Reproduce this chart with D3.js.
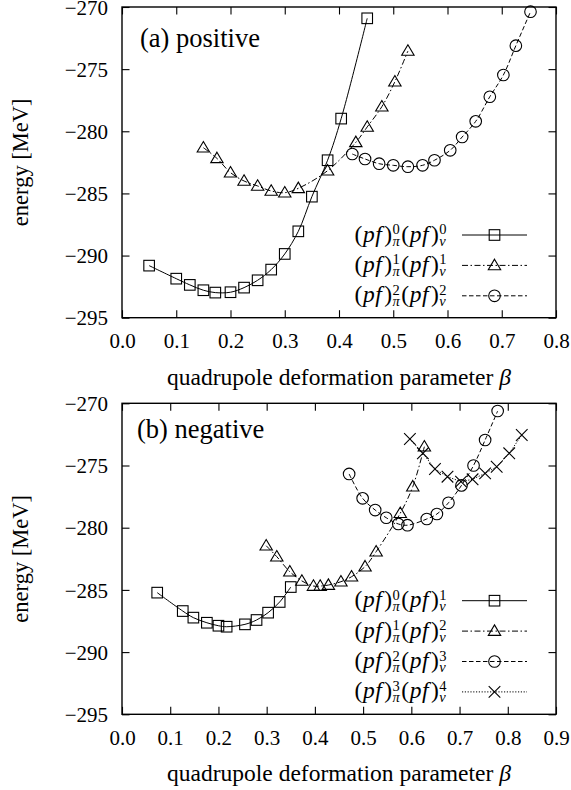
<!DOCTYPE html>
<html><head><meta charset="utf-8">
<script src="https://cdn.jsdelivr.net/npm/d3@7"></script>
<style>
body{margin:0;background:#fff}
svg text{fill:#000}
</style>
</head><body>
<svg id="c" width="571" height="790"></svg>
<script>
// ---------- data ----------
const yTicks = [-295, -290, -285, -280, -275, -270];
const yTickLabels = ["\u2212295", "\u2212290", "\u2212285", "\u2212280", "\u2212275", "\u2212270"];
const xTicksA = [0, 0.1, 0.2, 0.3, 0.4, 0.5, 0.6, 0.7, 0.8];
const xTickLabelsA = ["0.0", "0.1", "0.2", "0.3", "0.4", "0.5", "0.6", "0.7", "0.8"];
const xTicksB = [0, 0.1, 0.2, 0.3, 0.4, 0.5, 0.6, 0.7, 0.8, 0.9];
const xTickLabelsB = ["0.0", "0.1", "0.2", "0.3", "0.4", "0.5", "0.6", "0.7", "0.8", "0.9"];

// panel (a) positive
const sqA_beta = [0.05, 0.10, 0.125, 0.15, 0.172, 0.20, 0.225, 0.25, 0.275, 0.30, 0.325, 0.35, 0.379, 0.404, 0.452];
const sqA_E = [-290.81, -291.86, -292.36, -292.79, -292.98, -292.95, -292.58, -291.99, -291.13, -289.87, -288.05, -285.26, -282.33, -278.98, -270.91];
const triA_beta = [0.15, 0.175, 0.20, 0.225, 0.25, 0.275, 0.30, 0.325, 0.379, 0.431, 0.452, 0.479, 0.503, 0.527];
const triA_E = [-281.32, -282.18, -283.33, -284.0, -284.4, -284.8, -284.94, -284.59, -283.17, -280.89, -279.65, -278.02, -276.01, -273.54];
const cirA_beta = [0.4245, 0.448, 0.474, 0.500, 0.527, 0.554, 0.576, 0.605, 0.627, 0.652, 0.678, 0.703, 0.726, 0.753];
const cirA_E = [-281.83, -282.23, -282.61, -282.74, -282.85, -282.74, -282.33, -281.53, -280.46, -279.2, -277.22, -275.47, -273.11, -270.38];

// panel (b) negative
const sqB_beta = [0.073, 0.126, 0.148, 0.176, 0.200, 0.217, 0.255, 0.279, 0.303, 0.327, 0.350];
const sqB_E = [-285.22, -286.7, -287.23, -287.64, -287.88, -287.96, -287.77, -287.42, -286.83, -285.97, -284.77];
const triB_beta = [0.299, 0.321, 0.348, 0.373, 0.397, 0.411, 0.428, 0.454, 0.476, 0.504, 0.527, 0.577, 0.603, 0.627];
const triB_E = [-281.45, -282.33, -283.54, -284.28, -284.69, -284.69, -284.61, -284.34, -283.94, -283.13, -281.93, -278.84, -276.7, -273.49];
const cirB_beta = [0.471, 0.499, 0.525, 0.548, 0.573, 0.592, 0.632, 0.653, 0.677, 0.704, 0.729, 0.753, 0.779];
const cirB_E = [-275.68, -277.64, -278.58, -279.2, -279.7, -279.8, -279.3, -278.9, -278.0, -276.6, -275.0, -272.95, -270.62];
const crB_beta = [0.597, 0.624, 0.649, 0.675, 0.703, 0.727, 0.753, 0.777, 0.803, 0.829];
const crB_E = [-272.87, -274.02, -275.28, -275.9, -276.3, -276.11, -275.63, -275.1, -274.02, -272.55];

const legendPiA = ["0", "1", "2"];
const legendNuA = ["0", "1", "2"];
const legendPiB = ["0", "1", "2", "3"];
const legendNuB = ["1", "2", "3", "4"];

const panelLabels = ["(a) positive", "(b) negative"];
const xTitle = "quadrupole deformation parameter ";
const yTitle = "energy [MeV]";

// ---------- drawing ----------
const FONT = '"Liberation Serif", Tinos, "Times New Roman", Times, "DejaVu Serif", "Noto Serif", serif';
const svg = d3.select("#c");
const L = 122, R = 556;
const styles = {
  square: {dash: null},
  triangle: {dash: "6,2.5,1.5,2.5"},
  circle: {dash: "4.5,2.5"},
  cross: {dash: "1.2,1.6"}
};

function marker(g, type, x, y) {
  if (type === "square") {
    g.append("rect").attr("x", x - 5.3).attr("y", y - 5.3).attr("width", 10.6).attr("height", 10.6)
      .attr("fill", "none").attr("stroke", "#000").attr("stroke-width", 1.1);
  } else if (type === "triangle") {
    g.append("path").attr("d", `M${x},${y - 6.2}L${x + 6.2},${y + 4.3}L${x - 6.2},${y + 4.3}Z`)
      .attr("fill", "none").attr("stroke", "#000").attr("stroke-width", 1.1);
  } else if (type === "circle") {
    g.append("circle").attr("cx", x).attr("cy", y).attr("r", 5.8)
      .attr("fill", "none").attr("stroke", "#000").attr("stroke-width", 1.1);
  } else {
    g.append("path").attr("d", `M${x - 5.8},${y - 5.8}L${x + 5.8},${y + 5.8}M${x - 5.8},${y + 5.8}L${x + 5.8},${y - 5.8}`)
      .attr("fill", "none").attr("stroke", "#000").attr("stroke-width", 1.1);
  }
}

// measure helper
function measure(str, italic, size) {
  const tmp = svg.append("text").style("font-family", FONT).style("font-size", size + "px")
    .style("font-style", italic ? "italic" : "normal").text(str);
  const w = tmp.node().getComputedTextLength();
  tmp.remove();
  return w;
}

// one <text> per legend label, built from positioned tspans
function mathLabel(g, xRight, yBase, piSup, nuSup) {
  const main = 23.5, scr = 14.5;
  const pieces = [];
  let cx = 0;
  function add(str, italic, size, dy, extra) {
    pieces.push({str, italic, size, x: cx, dy});
    const w = measure(str, italic, size);
    cx += w + (extra || 0);
    return w;
  }
  function scripts(sup, sub) {
    const w1 = measure(sup, false, scr), w2 = measure(sub, true, scr);
    pieces.push({str: sup, italic: false, size: scr, x: cx, dy: -7.5});
    pieces.push({str: sub, italic: true, size: scr, x: cx, dy: 4});
    cx += Math.max(w1, w2) + 1.5;
  }
  add("(", false, main, 0, 0.5); add("p", true, main, 0, 0.5); add("f", true, main, 0, 2.5); add(")", false, main, 0, 0.5);
  scripts(piSup, "\u03c0");
  add("(", false, main, 0, 0.5); add("p", true, main, 0, 0.5); add("f", true, main, 0, 2.5); add(")", false, main, 0, 0.5);
  scripts(nuSup, "\u03bd");
  const x0 = xRight - cx;
  const t = g.append("text").style("font-family", FONT);
  pieces.forEach(p => {
    t.append("tspan").attr("x", x0 + p.x).attr("y", yBase + p.dy)
      .style("font-size", p.size + "px").style("font-style", p.italic ? "italic" : "normal").text(p.str);
  });
}

function panel(cfg) {
  const {top, bottom, xMax, xTicks, xLabels, series, label, labelX, labelDy, legPi, legNu, legRow0} = cfg;
  const x = d3.scaleLinear().domain([0, xMax]).range([L, R]);
  const y = d3.scaleLinear().domain([-295, -270]).range([bottom, top]);
  const g = svg.append("g");

  const fmtX = d => xLabels[xTicks.indexOf(d)];
  const fmtY = d => yTickLabels[yTicks.indexOf(d)];
  const ax = g.append("g").attr("transform", `translate(0,${bottom})`)
    .call(d3.axisBottom(x).tickValues(xTicks).tickFormat(fmtX).tickSize(-7.5).tickPadding(0));
  ax.selectAll("text").attr("y", 30.5).attr("dy", null);
  const ay = g.append("g").attr("transform", `translate(${L},0)`)
    .call(d3.axisLeft(y).tickValues(yTicks).tickFormat(fmtY).tickSize(-7.5).tickPadding(14));
  ay.selectAll("text").attr("dy", "0.34em");
  g.append("g").attr("transform", `translate(0,${top})`)
    .call(d3.axisTop(x).tickValues(xTicks).tickFormat("").tickSize(-7.5));
  g.append("g").attr("transform", `translate(${R},0)`)
    .call(d3.axisRight(y).tickValues(yTicks).tickFormat("").tickSize(-7.5));
  g.selectAll(".domain").remove();
  g.selectAll(".tick line").attr("stroke", "#000").attr("stroke-width", 1.1);
  g.selectAll(".tick text").style("font-family", FONT).style("font-size", "21px").attr("fill", "#000");

  g.append("rect").attr("x", L).attr("y", top).attr("width", R - L).attr("height", bottom - top)
    .attr("fill", "none").attr("stroke", "#000").attr("stroke-width", 1.4);

  series.forEach(s => {
    const pts = s.b.map((b, i) => [x(b), y(s.e[i])]);
    const line = d3.line().curve(s.type === "cross" ? d3.curveLinear : d3.curveCatmullRom.alpha(0.5));
    g.append("path").attr("d", line(pts)).attr("fill", "none").attr("stroke", "#000")
      .attr("stroke-width", 1).attr("stroke-dasharray", styles[s.type].dash);
    const mg = g.append("g");
    pts.forEach(p => marker(mg, s.type, p[0], p[1]));
  });

  g.append("text").attr("x", labelX).attr("y", top + labelDy)
    .style("font-family", FONT).style("font-size", "26.5px").text(label);

  series.forEach((s, i) => {
    const ry = legRow0 + i * 30.4;
    g.append("line").attr("x1", 462).attr("x2", 527).attr("y1", ry).attr("y2", ry)
      .attr("stroke", "#000").attr("stroke-width", 1).attr("stroke-dasharray", styles[s.type].dash);
    marker(g, s.type, 494.5, ry);
    mathLabel(g, 448, ry + 6.5, legPi[i], legNu[i]);
  });

  const xt = g.append("text").attr("x", (L + R) / 2).attr("y", bottom + 67).attr("text-anchor", "middle")
    .style("font-family", FONT).style("font-size", "23.5px").text(xTitle);
  xt.append("tspan").style("font-style", "italic").text("\u03b2");
  g.append("text").attr("transform", `translate(28,${(top + bottom) / 2}) rotate(-90)`)
    .attr("text-anchor", "middle").style("font-family", FONT).style("font-size", "22.5px").text(yTitle);
}

panel({
  top: 7, bottom: 317.7, xMax: 0.8, xTicks: xTicksA, xLabels: xTickLabelsA,
  series: [
    {b: sqA_beta, e: sqA_E, type: "square"},
    {b: triA_beta, e: triA_E, type: "triangle"},
    {b: cirA_beta, e: cirA_E, type: "circle"}
  ],
  label: panelLabels[0], labelX: 140, labelDy: 39.5,
  legPi: legendPiA, legNu: legendNuA, legRow0: 235
});
panel({
  top: 403.3, bottom: 714.3, xMax: 0.9, xTicks: xTicksB, xLabels: xTickLabelsB,
  series: [
    {b: sqB_beta, e: sqB_E, type: "square"},
    {b: triB_beta, e: triB_E, type: "triangle"},
    {b: cirB_beta, e: cirB_E, type: "circle"},
    {b: crB_beta, e: crB_E, type: "cross"}
  ],
  label: panelLabels[1], labelX: 137, labelDy: 35,
  legPi: legendPiB, legNu: legendNuB, legRow0: 600.7
});
</script>
</body></html>
